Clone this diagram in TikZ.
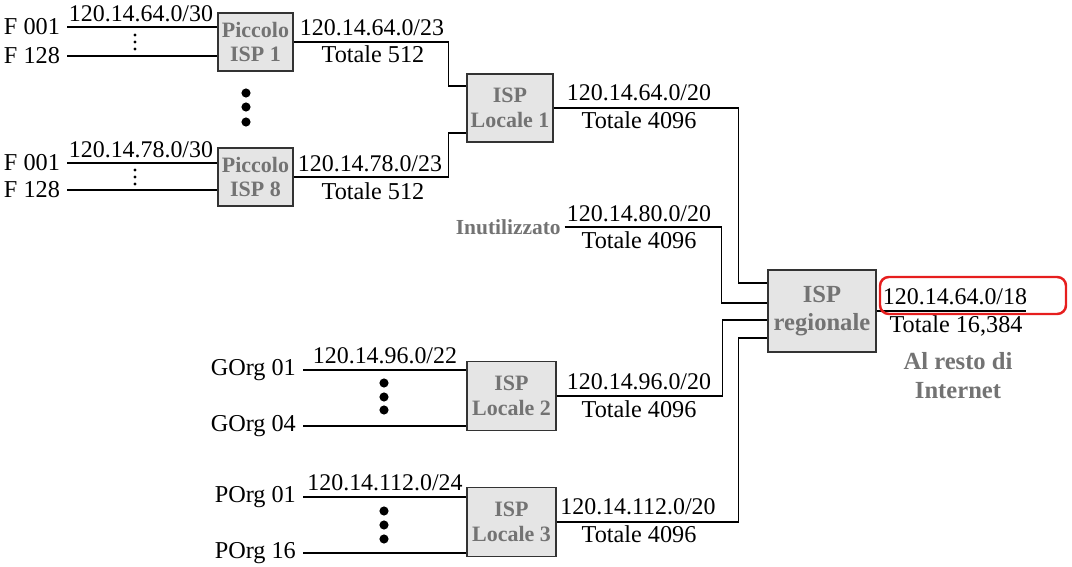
\documentclass[tikz,border=0pt]{standalone}
\usepackage{fontspec}
\setmainfont{Liberation Serif}
\usetikzlibrary{positioning}
\usetikzlibrary{calc}
\definecolor{boxgray}{gray}{0.9}
\definecolor{txtgray}{gray}{0.45}
\definecolor{markred}{RGB}{230,30,30}

\begin{document}
\begin{tikzpicture}[x=0.02cm,y=-0.02cm,
	isp/.style={draw=black!80,fill=boxgray,line width=0.8pt,inner sep=0pt,align=center,
		text=txtgray,font=\fontsize{12.5}{14}\selectfont\bfseries},
	addr/.style={inner sep=1pt,yshift=1.5pt,font=\fontsize{13.6}{15}\selectfont},
	lbl/.style={inner sep=1pt,font=\fontsize{13.8}{15}\selectfont},
	note/.style={text=txtgray,align=center,inner sep=0pt,font=\fontsize{12.2}{13}\selectfont\bfseries},
	link/.style={line width=0.7pt}]
	\useasboundingbox (0,0) rectangle (1072,567);
	% caselle ISP
	\node[isp,minimum width=1.5cm,minimum height=1.16cm] (p1) at (255.5,42) {Piccolo\\ISP 1};
	\node[isp,minimum width=1.5cm,minimum height=1.16cm] (p8) at (255.5,177) {Piccolo\\ISP 8};
	\node[isp,minimum width=1.72cm,minimum height=1.36cm] (l1) at (510,108) {ISP\\Locale 1};
	\node[isp,minimum width=1.78cm,minimum height=1.38cm] (l2) at (511.5,396) {ISP\\Locale 2};
	\node[isp,minimum width=1.78cm,minimum height=1.38cm] (l3) at (511.5,522) {ISP\\Locale 3};
	\node[isp,minimum width=2.16cm,minimum height=1.64cm,font=\fontsize{14}{16}\selectfont\bfseries] (reg) at (822,311) {ISP\\regionale};
	% clienti
	\node[lbl,anchor=east] (f1a) at (62,27) {F 001};
	\node[lbl,anchor=east] (f1b) at (62,56) {F 128};
	\node[lbl,anchor=east] (f8a) at (62,163) {F 001};
	\node[lbl,anchor=east] (f8b) at (62,190) {F 128};
	\node[lbl,anchor=east] (g1) at (298,370) {GOrg 01};
	\node[lbl,anchor=east] (g4) at (298,426) {GOrg 04};
	\node[lbl,anchor=east] (po1) at (298,497) {POrg 01};
	\node[lbl,anchor=east] (po16) at (298,553) {POrg 16};
	\node[note,anchor=east] (unused) at (561,227) {Inutilizzato};
	\node[note,font=\fontsize{14}{16.5}\selectfont\bfseries] (rest) at (958,376) {Al resto di\\Internet};
	% collegamenti
	\draw[link] ([xshift=3pt]f1a.east) -- (f1a.east -| p1.west);
	\draw[link] ([xshift=3pt]f1b.east) -- (f1b.east -| p1.west);
	\draw[link] ([xshift=3pt]f8a.east) -- (f8a.east -| p8.west);
	\draw[link] ([xshift=3pt]f8b.east) -- (f8b.east -| p8.west);
	\draw[link] ([xshift=3pt]g1.east) -- (g1.east -| l2.west);
	\draw[link] ([xshift=3pt]g4.east) -- (g4.east -| l2.west);
	\draw[link] ([xshift=3pt]po1.east) -- (po1.east -| l3.west);
	\draw[link] ([xshift=3pt]po16.east) -- (po16.east -| l3.west);
	\draw[link] (p1.east) -- ++(155,0) |- ($(l1.west)+(0,-22)$);
	\draw[link] (p8.east) -- ++(155,0) |- ($(l1.west)+(0,25)$);
	\draw[link] (l1.east) -- ++(185,0) |- ($(reg.west)+(0,-28)$);
	\draw[link] ([xshift=2pt]unused.east) -- ++(157,0) |- ($(reg.west)+(0,-8)$);
	\draw[link] (l2.east) -- ++(166,0) |- ($(reg.west)+(0,9)$);
	\draw[link] (l3.east) -- ++(182,0) |- ($(reg.west)+(0,27)$);
	\draw[link] (reg.east) -- ++(149,0);
	% indirizzi
	\node[addr,anchor=south] (a1) at (141,27) {120.14.64.0/30};
	\node[addr,anchor=south] (a8) at (141,163) {120.14.78.0/30};
	\node[addr,anchor=south] (ap1) at (372,41) {120.14.64.0/23};
	\node[lbl,anchor=north] (tp1) at (373,44) {Totale 512};
	\node[addr,anchor=south] (ap8) at (370,177) {120.14.78.0/23};
	\node[lbl,anchor=north] (tp8) at (373,181) {Totale 512};
	\node[addr,anchor=south] (al1) at (639,106) {120.14.64.0/20};
	\node[lbl,anchor=north] (tl1) at (639,110) {Totale 4096};
	\node[addr,anchor=south] (au) at (639,227) {120.14.80.0/20};
	\node[lbl,anchor=north] (tu) at (639,230) {Totale 4096};
	\node[addr,anchor=south] (ag) at (385,369) {120.14.96.0/22};
	\node[addr,anchor=south] (al2) at (639,395) {120.14.96.0/20};
	\node[lbl,anchor=north] (tl2) at (639,399) {Totale 4096};
	\node[addr,anchor=south] (apo) at (385,496) {120.14.112.0/24};
	\node[addr,anchor=south] (al3) at (638,520) {120.14.112.0/20};
	\node[lbl,anchor=north] (tl3) at (639,524) {Totale 4096};
	\node[addr,anchor=south] (areg) at (955,310) {120.14.64.0/18};
	\node[lbl,anchor=north] (treg) at (956,314) {Totale 16,384};
	% puntini
	\foreach \y in {35,42,49,170,177,184}
		\fill (135,\y) circle (0.9pt);
	\foreach \x/\y in {246/93,246/107,246/122,384/383,384/397,384/410,384/511,384/525,384/539}
		\fill (\x,\y) circle (2.6pt);
	% evidenziazione
	\draw[markred,line width=1.4pt,rounded corners=5pt] (880,277) rectangle (1066,314);
\end{tikzpicture}
\end{document}
